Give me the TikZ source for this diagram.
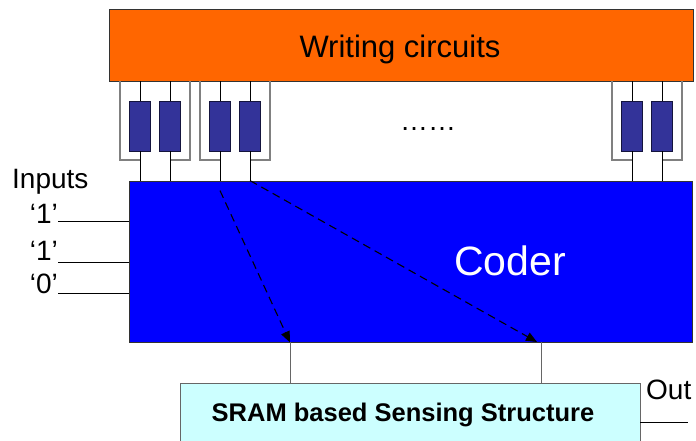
\documentclass[tikz,border=0pt]{standalone}
\usepackage{fontspec}
\setmainfont{Liberation Sans}
\usetikzlibrary{arrows.meta,calc}
\definecolor{wcorange}{HTML}{FF6600}
\definecolor{coderblue}{HTML}{0000FF}
\definecolor{resblue}{HTML}{333399}
\definecolor{sramcyan}{HTML}{CCFFFF}
\newcommand{\resgroup}[2]{
	\node[res] (#1a) at (#2+20,126) {};
	\node[res] (#1b) at (#2+50,126) {};
	\draw[frame] (#2,81) -- (#2,160) -- (#2+20,160);
	\draw[frame] (#2+70,81) -- (#2+70,160) -- (#2+50,160);
	\draw[lead] (wc.south -| #1a) -- (#1a.north);
	\draw[lead] (#1a.south) -- (coder.north -| #1a);
	\draw[lead] (wc.south -| #1b) -- (#1b.north);
	\draw[lead] (#1b.south) -- (coder.north -| #1b);
}

\begin{document}
\begin{tikzpicture}[x=1pt,y=-1pt,
	box/.style={draw=black!80, line width=0.8pt, inner sep=0pt},
	res/.style={draw=resblue!40!black, fill=resblue, line width=0.8pt, minimum width=21pt, minimum height=50pt, inner sep=0pt},
	lead/.style={line width=0.8pt, black},
	frame/.style={line width=1.3pt, gray},
	wire/.style={line width=0.8pt, black!60},
	sig/.style={line width=1.1pt, dash pattern=on 8pt off 5pt, -{Triangle[length=11pt,width=9pt]}},
	lbl/.style={inner sep=0pt, font=\fontsize{28}{32}\selectfont}]
	\useasboundingbox (0,0) rectangle (696,441);

	\node[box, fill=wcorange, minimum width=584pt, minimum height=72pt] (wc) at (401,45) {};
	\node[inner sep=0pt, font=\fontsize{31}{36}\selectfont] (wctxt) at (400,49) {Writing circuits};
	\node[box, fill=coderblue, minimum width=563pt, minimum height=161pt] (coder) at (410.5,261.5) {};
	\node[inner sep=0pt, white, font=\fontsize{41}{48}\selectfont] (codertxt) at (510,261) {Coder};
	\node[box, draw=black!60, fill=sramcyan, minimum width=460pt, minimum height=70pt] (sram) at (410,418) {};
	\node[inner sep=0pt, font=\bfseries\fontsize{25.5}{30}\selectfont] (sramtxt) at (403,415) {SRAM based Sensing Structure};

	% writing resistors
	\resgroup{g1}{120}
	\resgroup{g2}{200}
	\resgroup{g3}{612}
	\node[lbl, anchor=base west] (dots) at (400,131) {……};

	% inputs
	\node[lbl, anchor=base west] (inputs) at (12,188) {Inputs};
	\node[lbl, anchor=base east] (in1) at (58,223) {‘1’};
	\node[lbl, anchor=base east] (in2) at (58,260) {‘1’};
	\node[lbl, anchor=base east] (in3) at (58,293) {‘0’};
	\coordinate (w1) at (58,221);
	\coordinate (w2) at (58,262);
	\coordinate (w3) at (58,293);
	\draw[lead] (w1) -- (w1 -| coder.west);
	\draw[lead] (w2) -- (w2 -| coder.west);
	\draw[lead] (w3) -- (w3 -| coder.west);

	% coder to sensing
	\coordinate (s1) at (290,383);
	\coordinate (s2) at (541,383);
	\coordinate (t2) at (537,342);
	\draw[wire] (s1 |- coder.south) -- (s1);
	\draw[wire] (s2 |- coder.south) -- (s2);
	\draw[sig] ($(g2a |- coder.north)+(0,10)$) -- (s1 |- coder.south);
	\draw[sig] (g2b |- coder.north) -- (t2);

	% output
	\node[inner sep=0pt, anchor=base west, font=\fontsize{28}{32}\selectfont] (out) at (646,399) {Out};
	\coordinate (o1) at (688,422);
	\draw[lead] (o1 -| sram.east) -- (o1);
\end{tikzpicture}
\end{document}
